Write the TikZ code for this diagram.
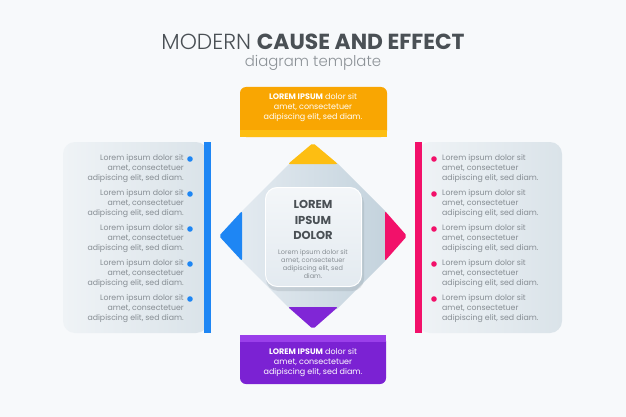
\documentclass[tikz,border=0pt]{standalone}
\usepackage{fontspec}
\setmainfont{Poppins}
\newfontfamily\lightfont{Poppins Light}
\usepackage{tikz}
\usetikzlibrary{arrows.meta}

\definecolor{bg}{HTML}{F7F9FB}
\definecolor{titlegray}{HTML}{4A5055}
\definecolor{subgray}{HTML}{8C9297}
\definecolor{txtgray}{HTML}{868D93}
\definecolor{ccorange}{HTML}{F9A602}
\definecolor{ccyellow}{HTML}{FDBE12}
\definecolor{ccpurple}{HTML}{7B22D3}
\definecolor{cclilac}{HTML}{9A3FEA}
\definecolor{ccblue}{HTML}{1E86F4}
\definecolor{ccpink}{HTML}{F2116A}
\definecolor{panelA}{HTML}{EFF3F6}
\definecolor{panelB}{HTML}{DAE3E9}
\definecolor{octA}{HTML}{E3EAF0}
\definecolor{octB}{HTML}{C4D3DD}

\tikzset{
  sidetext/.style={font=\fontsize{7.8}{10}\selectfont, text=txtgray, inner sep=0pt},
  boxtext/.style={font=\fontsize{8}{10}\selectfont, text=white, align=center, inner sep=0pt},
  arrowtri/.style={rounded corners=2pt},
}

\begin{document}
\begin{tikzpicture}[x=1pt,y=-1pt]
\fill[bg] (0,0) rectangle (626,417);
\useasboundingbox (0,0) rectangle (626,417);

% title
\node[font=\fontsize{21.8}{24}\selectfont, text=titlegray, inner sep=0pt] (title) at (313,42)
  {{\lightfont MODERN} \textbf{CAUSE AND EFFECT}};
\node[font=\fontsize{14.9}{16}\selectfont\lightfont, text=subgray, inner sep=0pt] (subtitle) at (313,63)
  {diagram template};

% side panels
\shade[left color=panelA, right color=panelB, rounded corners=12pt] (63,142) rectangle (208,333);
\fill[ccblue] (204,142) rectangle (211,333);
\shade[left color=panelA, right color=panelB, rounded corners=12pt] (418,142) rectangle (562,333);
\fill[ccpink] (415,142) rectangle (422,333);

\foreach \k in {0,...,4} {
  \node[sidetext, anchor=east, align=right] (cause\k) at (184,{169+35*\k})
    {Lorem ipsum dolor sit\\amet, consectetuer\\adipiscing elit, sed diam.};
  \fill[ccblue] (190,{159+35*\k}) circle [radius=2.8];
  \node[sidetext, anchor=west, align=left] (effect\k) at (442,{169+35*\k})
    {Lorem ipsum dolor sit\\amet, consectetuer\\adipiscing elit, sed diam.};
  \fill[ccpink] (434,{159+35*\k}) circle [radius=2.8];
}

% central octagon
\coordinate (o1) at (290,163);
\coordinate (o2) at (337,163);
\coordinate (o3) at (386,212);
\coordinate (o4) at (386,260);
\coordinate (o5) at (337,309);
\coordinate (o6) at (290,309);
\coordinate (o7) at (241,260);
\coordinate (o8) at (241,212);
\shade[left color=octA, right color=octB] (o1) -- (o2) -- (o3) -- (o4) -- (o5) -- (o6) -- (o7) -- (o8) -- cycle;

% arrows
\fill[ccyellow, arrowtri] (313,143) -- (338,164) -- (288,164) -- cycle;
\fill[ccpurple!85!cclilac, arrowtri] (288,307) -- (338,307) -- (313,329) -- cycle;
\fill[ccblue, arrowtri] (219,236) -- (242,211) -- (242,261) -- cycle;
\fill[ccpink, arrowtri] (407,236) -- (385,211) -- (385,261) -- cycle;

% center card
\fill[octB!70!black, opacity=0.25, rounded corners=12pt] (266,191) rectangle (364,291);
\shade[top color=white!60!octA, bottom color=octA, rounded corners=12pt] (265,187) rectangle (362,287);
\draw[white, line width=0.8pt, rounded corners=12pt] (265.5,187.5) rectangle (361.5,286.5);
\node[font=\fontsize{11.5}{15.5}\selectfont\bfseries, text=titlegray, align=center, inner sep=0pt]
  (core) at (313,220) {LOREM\\IPSUM\\DOLOR};
\node[font=\fontsize{6.5}{8}\selectfont, text=txtgray, align=center, inner sep=0pt]
  (coretext) at (313,264) {Lorem ipsum dolor sit\\amet, consectetuer\\adipiscing elit, sed\\diam.};

% top box
\fill[ccorange, rounded corners=6pt] (240,87) rectangle (387,137);
\fill[ccyellow] (240,130) rectangle (387,137);
\node[boxtext] (topbox) at (313,108)
  {\textbf{LOREM IPSUM} dolor sit\\amet, consectetuer\\adipiscing elit, sed diam.};

% bottom box
\fill[ccpurple, rounded corners=6pt] (240,335) rectangle (386,384);
\fill[cclilac] (240,335) rectangle (386,342);
\node[boxtext] (bottombox) at (313,363)
  {\textbf{LOREM IPSUM} dolor sit\\amet, consectetuer\\adipiscing elit, sed diam.};
\end{tikzpicture}
\end{document}
